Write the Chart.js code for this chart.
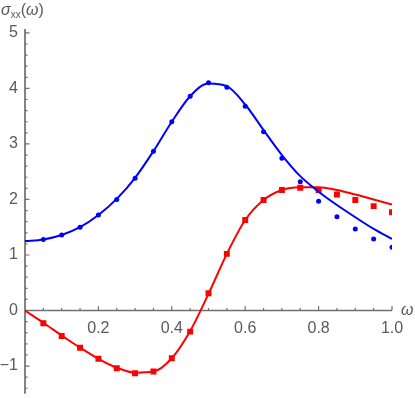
<!DOCTYPE html>
<html>
<head>
<meta charset="utf-8">
<script src="https://cdn.jsdelivr.net/npm/chart.js@4.4.1/dist/chart.umd.min.js"></script>
<style>
  html, body { margin: 0; padding: 0; background: #fff; }
  #wrap { position: relative; width: 415px; height: 398px; }
  canvas { position: absolute; left: 0; top: 0; }
  .lbl { position: absolute; font-family: "Liberation Sans", Arial, sans-serif; color: #5a5a5a; font-size: 16px; line-height: 20px; white-space: nowrap; }
  .lbl i { font-style: italic; }
  .lbl sub { font-size: 10px; vertical-align: -3px; line-height: 0; }
</style>
</head>
<body>
<div id="wrap">
  <canvas id="c" width="415" height="398"></canvas>
  <div class="lbl" style="left:1px; top:0px;"><i>σ</i><sub>xx</sub>(<i>ω</i>)</div>
  <div class="lbl" style="left:401px; top:300px;"><i>ω</i></div>
</div>
<script>
// ---- data ----
const omegaFit = [0, 0.05, 0.1, 0.15, 0.2, 0.25, 0.3, 0.35, 0.4, 0.45, 0.5, 0.55, 0.6, 0.65, 0.7, 0.75, 0.8, 0.85, 0.9, 0.95, 1.0];
const blueFit  = [1.25, 1.28, 1.36, 1.50, 1.72, 2.01, 2.39, 2.87, 3.40, 3.86, 4.09, 4.04, 3.71, 3.25, 2.80, 2.42, 2.14, 1.90, 1.68, 1.47, 1.29];
const redFit   = [0, -0.22, -0.45, -0.67, -0.87, -1.03, -1.12, -1.10, -0.86, -0.37, 0.30, 1.02, 1.63, 1.99, 2.17, 2.22, 2.22, 2.17, 2.09, 2.00, 1.91];

const omegaPts = [0.05, 0.1, 0.15, 0.2, 0.25, 0.3, 0.35, 0.4, 0.45, 0.5, 0.55, 0.6, 0.65, 0.7, 0.75, 0.8, 0.85, 0.9, 0.95, 1.0];
const bluePts  = [1.28, 1.36, 1.50, 1.72, 2.00, 2.38, 2.87, 3.40, 3.86, 4.10, 4.02, 3.68, 3.22, 2.74, 2.32, 1.97, 1.69, 1.47, 1.29, 1.14];
const redPts   = [-0.23, -0.46, -0.67, -0.87, -1.04, -1.13, -1.10, -0.86, -0.38, 0.31, 1.02, 1.63, 1.99, 2.17, 2.21, 2.17, 2.09, 1.99, 1.88, 1.77];

const xTickLabels = [0.2, 0.4, 0.6, 0.8, 1.0];
const yTickLabels = [-1, 0, 1, 2, 3, 4, 5];

const xRange = [0, 1.0];
const yRange = [-1.5, 5.07];

const BLUE = 'rgb(0,0,255)';
const RED = 'rgb(255,0,0)';
const AXIS = '#707070';
const TEXT = '#5a5a5a';
const FONT = '"Liberation Sans", Arial, sans-serif';

const pairs = (xs, ys) => xs.map((x, i) => ({x, y: ys[i]}));

const axesPlugin = {
  id: 'mmaAxes',
  beforeDatasetsDraw(chart) {
    const {ctx, scales: {x, y}} = chart;
    const x0 = x.getPixelForValue(0), y0 = y.getPixelForValue(0);
    ctx.save();
    ctx.strokeStyle = AXIS;
    ctx.lineWidth = 1.7;
    ctx.beginPath();
    ctx.moveTo(x.getPixelForValue(xRange[0]), y0);
    ctx.lineTo(x.getPixelForValue(xRange[1]), y0);
    ctx.moveTo(x0, y.getPixelForValue(yRange[0]));
    ctx.lineTo(x0, y.getPixelForValue(yRange[1]));
    ctx.stroke();
    ctx.lineWidth = 1.2;
    ctx.beginPath();
    for (let k = 1; k <= 20; k++) {
      const v = k * 0.05;
      const major = k % 4 === 0;
      const px = x.getPixelForValue(v);
      ctx.moveTo(px, y0);
      ctx.lineTo(px, y0 - (major ? 4.5 : 2.5));
    }
    for (let k = -7; k <= 25; k++) {
      if (k === 0) continue;
      const v = k * 0.2;
      const major = k % 5 === 0;
      const py = y.getPixelForValue(v);
      ctx.moveTo(x0, py);
      ctx.lineTo(x0 + (major ? 4.5 : 2.5), py);
    }
    ctx.stroke();
    ctx.restore();
  }
};

const zeroPad = s => { s.paddingTop = 0; s.paddingBottom = 0; s.paddingLeft = 0; s.paddingRight = 0; };

new Chart(document.getElementById('c'), {
  type: 'scatter',
  data: {
    datasets: [
      { type: 'line', data: pairs(omegaFit, blueFit), borderColor: BLUE, borderWidth: 2, pointRadius: 0, cubicInterpolationMode: 'monotone', fill: false },
      { type: 'line', data: pairs(omegaFit, redFit), borderColor: RED, borderWidth: 2, pointRadius: 0, cubicInterpolationMode: 'monotone', fill: false },
      { type: 'scatter', data: pairs(omegaPts, bluePts), backgroundColor: BLUE, borderWidth: 0, pointRadius: 2.5, pointStyle: 'circle' },
      { type: 'scatter', data: pairs(omegaPts, redPts), backgroundColor: RED, borderWidth: 0, pointRadius: 4.2, pointStyle: 'rect' }
    ]
  },
  options: {
    responsive: false,
    animation: false,
    devicePixelRatio: 1,
    layout: { padding: { left: 0, right: 23, top: 29, bottom: 3 } },
    plugins: { legend: { display: false }, tooltip: { enabled: false } },
    scales: {
      x: {
        type: 'linear', min: xRange[0], max: xRange[1],
        position: { y: 0 },
        grid: { display: false, drawTicks: false },
        border: { display: false },
        afterFit: s => { s.height = 0; zeroPad(s); },
        afterBuildTicks: s => { s.ticks = xTickLabels.map(v => ({ value: v })); },
        ticks: { autoSkip: false, maxRotation: 0, padding: 8, color: TEXT, font: { family: FONT, size: 16 },
                 callback: v => Number(v).toFixed(1) }
      },
      y: {
        type: 'linear', min: yRange[0], max: yRange[1],
        position: 'left',
        grid: { display: false, drawTicks: false },
        border: { display: false },
        afterFit: s => { s.width = 25; zeroPad(s); },
        afterBuildTicks: s => { s.ticks = yTickLabels.map(v => ({ value: v })); },
        ticks: { autoSkip: false, padding: 7, color: TEXT, font: { family: FONT, size: 16 },
                 callback: v => (v < 0 ? '\u2212' + Math.abs(v) : String(v)) }
      }
    }
  },
  plugins: [axesPlugin]
});
</script>
</body>
</html>
